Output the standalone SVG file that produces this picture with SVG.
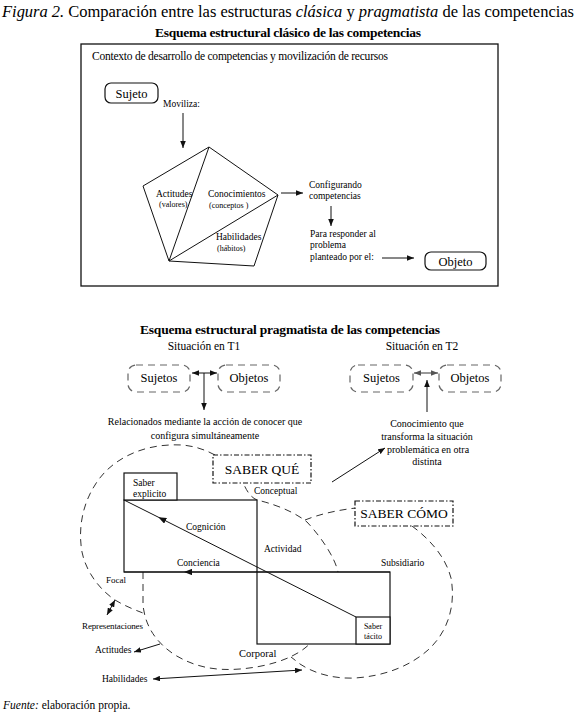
<svg xmlns="http://www.w3.org/2000/svg" width="577" height="720" viewBox="0 0 577 720">
<style>
.ln{stroke:#111;stroke-width:1;fill:none}
.ar{stroke:#111;stroke-width:1;fill:none;marker-end:url(#ah)}
.da{stroke:#111;stroke-width:1;fill:none;marker-start:url(#ah);marker-end:url(#ah)}
.dash{stroke:#333;stroke-width:1;fill:none;stroke-dasharray:7 5}
.gbox{stroke:#666;stroke-width:1.2;fill:none;stroke-dasharray:7 5}
.dd{stroke:#111;stroke-width:1.2;fill:#fff;stroke-dasharray:5 2 1.5 2}
.box{stroke:#111;stroke-width:1.2;fill:#fff}
</style>
<defs>
<marker id="ah" viewBox="0 0 10 8" refX="10" refY="4" markerWidth="7" markerHeight="5.6" markerUnits="userSpaceOnUse" orient="auto-start-reverse">
<path d="M0,0 L10,4 L0,8 z" fill="#111"/>
</marker>
<marker id="ahg" viewBox="0 0 10 8" refX="10" refY="4" markerWidth="7" markerHeight="5.6" markerUnits="userSpaceOnUse" orient="auto-start-reverse">
<path d="M0,0 L10,4 L0,8 z" fill="#555"/>
</marker>
<marker id="mid" viewBox="0 0 10 8" refX="5" refY="4" markerWidth="8" markerHeight="6.4" markerUnits="userSpaceOnUse" orient="auto">
<path d="M0,0 L10,4 L0,8 z" fill="#111"/>
</marker>
</defs>
<rect width="577" height="720" fill="#fff"/>

<text x="2" y="17" font-family="Liberation Serif" font-size="16.5" textLength="572"><tspan font-style="italic">Figura 2.</tspan> Comparación entre las estructuras <tspan font-style="italic">clásica</tspan> y <tspan font-style="italic">pragmatista</tspan> de las competencias</text>
<text x="288" y="37" font-family="Liberation Serif" font-size="13.5" font-weight="bold" text-anchor="middle" textLength="266">Esquema estructural clásico de las competencias</text>

<g id="classic">
<rect id="context" x="81" y="44" width="417" height="242" fill="none" stroke="#111" stroke-width="1.3"/>
<text x="92" y="60" font-family="Liberation Serif" font-size="11.5" textLength="296">Contexto de desarrollo de competencias y movilización de recursos</text>
<g id="sujeto">
<rect x="105" y="83" width="53" height="20" rx="6" class="box"/>
<text x="131.5" y="97.5" font-family="Liberation Serif" font-size="12.5" text-anchor="middle">Sujeto</text>
</g>
<text x="163" y="107" font-family="Liberation Serif" font-size="9.5">Moviliza:</text>
<g id="pentagon">
<path class="ln" d="M209,147 L278,195 L254,266 L169,261 L143,186 Z M209,147 L169,261 L278,195"/>
<text x="156" y="197" font-family="Liberation Serif" font-size="9.5">Actitudes</text>
<text x="159" y="207" font-family="Liberation Serif" font-size="8">(valores)</text>
<text x="208" y="197" font-family="Liberation Serif" font-size="9.5">Conocimientos</text>
<text x="209" y="208" font-family="Liberation Serif" font-size="8">(conceptos )</text>
<text x="216" y="240" font-family="Liberation Serif" font-size="9.5">Habilidades</text>
<text x="217" y="251" font-family="Liberation Serif" font-size="8">(hábitos)</text>
</g>
<g id="config">
<text x="309" y="188" font-family="Liberation Serif" font-size="9.5">Configurando</text>
<text x="309" y="199" font-family="Liberation Serif" font-size="9.5">competencias</text>
<text x="310" y="237" font-family="Liberation Serif" font-size="9.5">Para responder al</text>
<text x="310" y="248" font-family="Liberation Serif" font-size="9.5">problema</text>
<text x="310" y="260" font-family="Liberation Serif" font-size="9.5">planteado por el:</text>
</g>
<g id="objeto">
<rect x="425" y="252" width="61" height="18" rx="6" class="box"/>
<text x="455.5" y="265.5" font-family="Liberation Serif" font-size="12.5" text-anchor="middle">Objeto</text>
</g>
</g>
<g id="classic-connectors">
<line class="ar" x1="183" y1="113" x2="183" y2="148"/>
<line class="ar" x1="281" y1="193" x2="303" y2="193"/>
<line class="ar" x1="331" y1="206" x2="331" y2="226"/>
<line class="ar" x1="382" y1="258" x2="414" y2="258"/>
</g>

<text x="290" y="334" font-family="Liberation Serif" font-size="13.5" font-weight="bold" text-anchor="middle" textLength="300">Esquema estructural pragmatista de las competencias</text>
<text x="204" y="350" font-family="Liberation Serif" font-size="11.5" text-anchor="middle">Situación en T1</text>
<text x="422" y="350" font-family="Liberation Serif" font-size="11.5" text-anchor="middle">Situación en T2</text>

<g id="t1-sujetos"><rect x="128" y="365" width="62" height="27" rx="8" class="gbox"/><text x="159" y="382" font-family="Liberation Serif" font-size="12.5" text-anchor="middle">Sujetos</text></g>
<g id="t1-objetos"><rect x="218" y="365" width="62" height="27" rx="8" class="gbox"/><text x="249" y="382" font-family="Liberation Serif" font-size="12.5" text-anchor="middle">Objetos</text></g>
<g id="t2-sujetos"><rect x="350" y="365" width="63" height="27" rx="8" class="gbox"/><text x="381.5" y="382" font-family="Liberation Serif" font-size="12.5" text-anchor="middle">Sujetos</text></g>
<g id="t2-objetos"><rect x="439" y="365" width="62" height="27" rx="8" class="gbox"/><text x="470" y="382" font-family="Liberation Serif" font-size="12.5" text-anchor="middle">Objetos</text></g>

<g id="t1-text">
<text x="205" y="425" font-family="Liberation Serif" font-size="10" text-anchor="middle">Relacionados mediante la acción de conocer que</text>
<text x="205" y="439" font-family="Liberation Serif" font-size="10" text-anchor="middle">configura simultáneamente</text>
</g>
<g id="t2-text">
<text x="427" y="427" font-family="Liberation Serif" font-size="10" text-anchor="middle">Conocimiento que</text>
<text x="427" y="440" font-family="Liberation Serif" font-size="10" text-anchor="middle">transforma la situación</text>
<text x="428" y="453" font-family="Liberation Serif" font-size="10" text-anchor="middle">problemática en otra</text>
<text x="427" y="465" font-family="Liberation Serif" font-size="10" text-anchor="middle">distinta</text>
</g>

<g id="circles">
<path class="dash" d="M215,455 C200,447 186,444 170,445 C140,446 110,460 95,485 C82,505 78,530 82,552 C86,572 100,590 115,600 C125,606 135,610 143,613"/>
<path class="dash" d="M143,572 L143,605 C145,625 155,642 175,655 C195,667 215,671 240,669 C265,667 290,660 305,648 C325,632 342,605 338,572 C335,558 322,538 307,522 C292,510 270,503 257,500 C250,497 246,490 242,480"/>
<path class="dash" d="M305,520 C320,514 338,510 356,508"/>
<path class="dash" d="M412,526 C428,538 445,555 451,578 C456,605 448,632 428,650 C410,666 385,676 355,678 C335,679 315,674 300,664 L291,657"/>
</g>

<g id="saber-que"><rect x="213" y="455" width="98" height="28" class="dd"/><text x="262" y="474" font-family="Liberation Serif" font-size="13.5" text-anchor="middle">SABER QUÉ</text></g>
<g id="saber-como"><rect x="355" y="501" width="98" height="25" class="dd"/><text x="404" y="518" font-family="Liberation Serif" font-size="13.5" text-anchor="middle">SABER CÓMO</text></g>

<g id="rect-explicito"><rect x="124" y="500" width="133" height="72" class="box"/></g>
<g id="rect-tacito"><rect x="257" y="572" width="133" height="72" class="box"/></g>
<g id="saber-explicito"><rect x="124" y="473" width="53" height="27" class="box"/><text x="133" y="486" font-family="Liberation Serif" font-size="9.5">Saber</text><text x="133" y="497" font-family="Liberation Serif" font-size="9.5">explicito</text></g>
<g id="saber-tacito"><rect x="356" y="617" width="34" height="27" class="box"/><text x="373" y="629" font-family="Liberation Serif" font-size="8" text-anchor="middle">Saber</text><text x="373" y="639" font-family="Liberation Serif" font-size="8" text-anchor="middle">tácito</text></g>

<g id="labels">
<text x="254" y="494" font-family="Liberation Serif" font-size="9.5">Conceptual</text>
<text x="186" y="530" font-family="Liberation Serif" font-size="9.5">Cognición</text>
<text x="264" y="552" font-family="Liberation Serif" font-size="9.5">Actividad</text>
<text x="177" y="566" font-family="Liberation Serif" font-size="9.5">Conciencia</text>
<text x="381" y="566" font-family="Liberation Serif" font-size="9.5">Subsidiario</text>
<text x="106" y="583" font-family="Liberation Serif" font-size="9">Focal</text>
<text x="82" y="629" font-family="Liberation Serif" font-size="9" textLength="61">Representaciones</text>
<text x="95" y="653" font-family="Liberation Serif" font-size="9.5">Actitudes</text>
<text x="102" y="682" font-family="Liberation Serif" font-size="9.5">Habilidades</text>
<text x="239" y="657" font-family="Liberation Serif" font-size="10.5">Corporal</text>
</g>

<g id="connectors">
<line class="da" x1="192" y1="373" x2="217" y2="373"/>
<line class="ar" x1="204" y1="373" x2="204" y2="410"/>
<line x1="414" y1="373" x2="438" y2="373" stroke="#555" stroke-width="1.2" marker-start="url(#ahg)" marker-end="url(#ahg)"/>
<line class="ar" x1="427" y1="412" x2="427" y2="380"/>
<line class="ar" x1="332" y1="482" x2="385" y2="448"/>
<path class="ln" d="M356,617 L162,519 L124,500" marker-mid="url(#mid)"/>
<path class="ln" d="M390,572 L188,572 L124,572" marker-mid="url(#mid)"/>
<line class="da" x1="115" y1="600" x2="107" y2="615"/>
<line class="ar" x1="160" y1="644" x2="134" y2="652"/>
<line class="da" x1="153" y1="679" x2="302" y2="670"/>
</g>

<text x="3" y="709" font-family="Liberation Serif" font-size="11.5"><tspan font-style="italic">Fuente:</tspan> elaboración propia.</text>
</svg>
